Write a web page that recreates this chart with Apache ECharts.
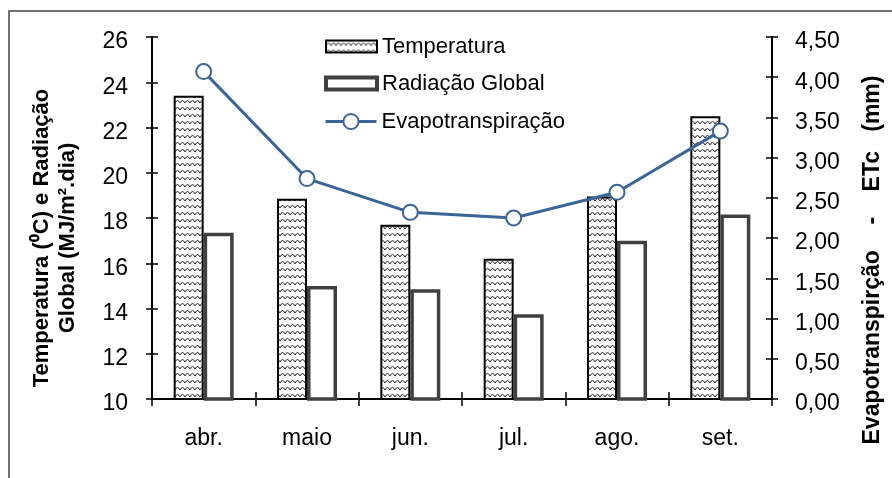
<!DOCTYPE html>
<html>
<head>
<meta charset="utf-8">
<script src="https://cdn.jsdelivr.net/npm/echarts@6/dist/echarts.min.js"></script>
<style>
html,body{margin:0;padding:0;background:#fff;}
#chart{width:892px;height:478px;}
</style>
</head>
<body>
<div id="chart"></div>
<script>
var categories = ['abr.', 'maio', 'jun.', 'jul.', 'ago.', 'set.'];
var temperatura = [23.4, 18.85, 17.7, 16.2, 18.95, 22.5];
var radiacao = [17.35, 15.0, 14.85, 13.75, 17.0, 18.15];
var evapotranspiracao = [4.07, 2.74, 2.32, 2.25, 2.57, 3.33];
var leftTicks = [10, 12, 14, 16, 18, 20, 22, 24, 26];
var rightTicks = ['0,00','0,50','1,00','1,50','2,00','2,50','3,00','3,50','4,00','4,50'];

var FONT = '"Liberation Sans", Arial, sans-serif';

// wavy hatch pattern
var pc = document.createElement('canvas');
pc.width = 10; pc.height = 7;
var g = pc.getContext('2d');
g.fillStyle = '#fff'; g.fillRect(0, 0, 10, 7);
g.strokeStyle = '#111'; g.lineWidth = 0.9;
g.beginPath();
g.moveTo(0, 5);
g.quadraticCurveTo(2.5, 0, 5, 5);
g.quadraticCurveTo(7.5, 0, 10, 5);
g.stroke();

var chart = echarts.init(document.getElementById('chart'), null, {renderer: 'canvas'});

var axisLine = {show: true, lineStyle: {color: '#000', width: 2}};
var legendText = {fontFamily: FONT, fontSize: 22, color: '#000', lineHeight: 25};
var labelRich = {
  s: {fontFamily: FONT, fontSize: 8, lineHeight: 10},
  v: {fontFamily: FONT, fontSize: 23, lineHeight: 23, color: '#000'}
};
var option = {
  animation: false,
  backgroundColor: '#fff',
  textStyle: {fontFamily: FONT},
  grid: {left: 152, right: 120, top: 37, bottom: 79, containLabel: false},
  legend: [{
    orient: 'vertical',
    left: 319,
    top: 29,
    itemWidth: 51,
    itemHeight: 12,
    itemGap: 12,
    icon: 'rect',
    textStyle: legendText,
    data: [
      {name: 'Temperatura', itemStyle: {borderColor: '#000', borderWidth: 2}},
      {name: 'Radiação Global', itemStyle: {borderColor: '#404040', borderWidth: 4}}
    ]
  }, {
    orient: 'vertical',
    left: 319,
    top: 104,
    itemWidth: 51,
    itemHeight: 19,
    textStyle: legendText,
    lineStyle: {width: 3, color: '#3a6598'},
    itemStyle: {color: '#fff', borderColor: '#3a6598', borderWidth: 2},
    data: ['Evapotranspiração']
  }],
  xAxis: [{
    type: 'category',
    data: categories,
    position: 'bottom',
    axisLine: axisLine,
    axisTick: {show: true, length: 7, interval: 0, lineStyle: {color: '#000', width: 1.5}},
    axisLabel: {fontFamily: FONT, fontSize: 23, color: '#000', margin: 28}
  }, {
    type: 'category',
    data: categories,
    position: 'bottom',
    axisLine: {show: false},
    axisTick: {show: true, inside: true, length: 7, interval: 0, lineStyle: {color: '#000', width: 1.5}},
    axisLabel: {show: false}
  }],
  yAxis: [{
    type: 'value', position: 'left', min: leftTicks[0], max: leftTicks[leftTicks.length - 1], interval: 2,
    axisLine: axisLine,
    axisTick: {show: true, length: 6, lineStyle: {color: '#000', width: 1.5}},
    splitLine: {show: false},
    axisLabel: {margin: 24, rich: labelRich,
      formatter: function (v) { return '{s| }\n{v|' + v + '}'; }}
  }, {
    type: 'value', position: 'right', min: 0, max: 4.5, interval: 0.5,
    axisLine: axisLine,
    axisTick: {show: true, length: 6, lineStyle: {color: '#000', width: 1.5}},
    splitLine: {show: false},
    axisLabel: {margin: 23, rich: labelRich,
      formatter: function (v) { return '{s| }\n{v|' + rightTicks[Math.round(v / 0.5)] + '}'; }}
  }, {
    type: 'value', position: 'left', min: leftTicks[0], max: leftTicks[leftTicks.length - 1], interval: 2,
    axisLine: {show: false}, splitLine: {show: false}, axisLabel: {show: false},
    axisTick: {show: true, inside: true, length: 6, lineStyle: {color: '#000', width: 1.5}}
  }, {
    type: 'value', position: 'right', min: 0, max: 4.5, interval: 0.5,
    axisLine: {show: false}, splitLine: {show: false}, axisLabel: {show: false},
    axisTick: {show: true, inside: true, length: 6, lineStyle: {color: '#000', width: 1.5}}
  }],
  series: [{
    name: 'Temperatura',
    type: 'bar',
    yAxisIndex: 0,
    barWidth: 30,
    barGap: '0%',
    data: temperatura,
    itemStyle: {color: {image: pc, repeat: 'repeat'}, borderColor: '#000', borderWidth: 2}
  }, {
    name: 'Radiação Global',
    type: 'bar',
    yAxisIndex: 0,
    barWidth: 30,
    barGap: '0%',
    data: radiacao,
    itemStyle: {color: '#fff', borderColor: '#404040', borderWidth: 3.5}
  }, {
    name: 'Evapotranspiração',
    type: 'line',
    yAxisIndex: 1,
    data: evapotranspiracao,
    symbol: 'circle',
    symbolSize: 15,
    lineStyle: {color: '#3a6598', width: 3},
    itemStyle: {color: '#fff', borderColor: '#3a6598', borderWidth: 2}
  }],
  graphic: [{
    type: 'rect',
    shape: {x: 9, y: 11, width: 1000, height: 1000},
    style: {fill: null, stroke: '#444', lineWidth: 1.5},
    silent: true
  }, {
    type: 'text',
    x: 55, y: 238,
    rotation: Math.PI / 2,
    style: {
      text: 'Temperatura (\u2070C) e Radiação\nGlobal (MJ/m\u00b2.dia)',
      font: 'bold 22px ' + FONT,
      fill: '#000',
      align: 'center',
      verticalAlign: 'middle',
      lineHeight: 26
    }
  }, {
    type: 'text',
    x: 873, y: 260,
    rotation: Math.PI / 2,
    style: {
      text: 'Evapotranspirção    -    ETc   (mm)',
      font: 'bold 23px ' + FONT,
      fill: '#000',
      align: 'center',
      verticalAlign: 'middle'
    }
  }]
};
chart.setOption(option);
</script>
</body>
</html>
